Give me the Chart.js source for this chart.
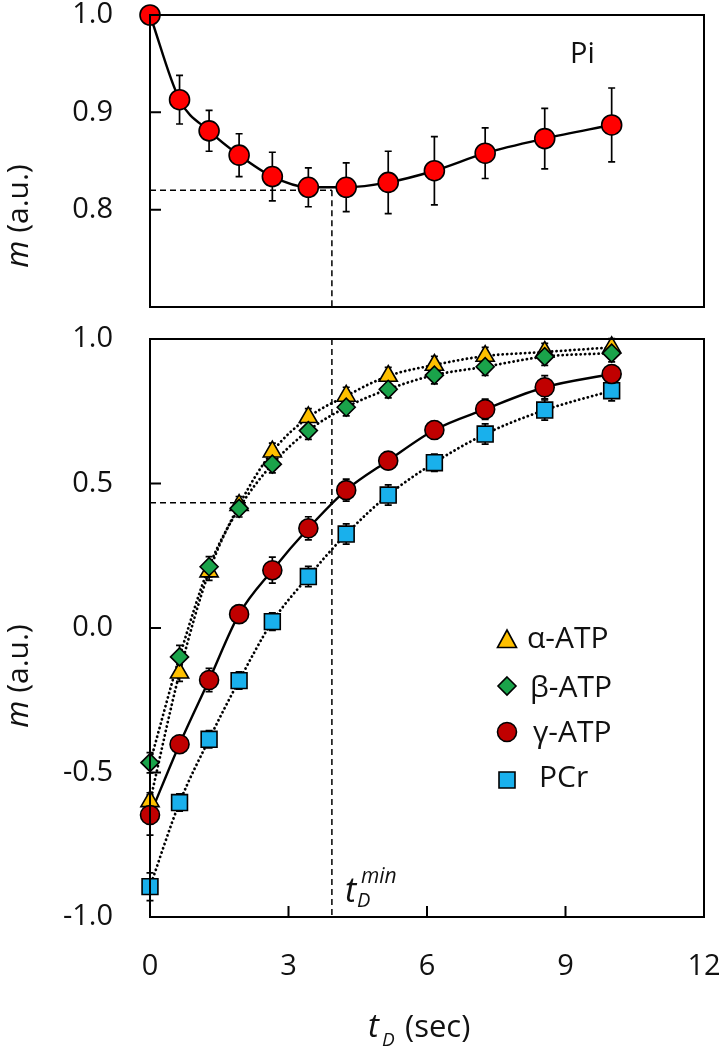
<!DOCTYPE html>
<html lang="en">
<head>
<meta charset="UTF-8">
<title>Pi and ATP magnetization vs tD</title>
<script src="https://cdn.jsdelivr.net/npm/chart.js"></script>
<style>
  body { margin: 0; background: #fff; }
  canvas { position: absolute; left: 0; }
  #piChart { top: 0; }
  #atpChart { top: 320px; }
</style>
</head>
<body>
<canvas id="piChart" width="722" height="330"></canvas>
<canvas id="atpChart" width="722" height="730"></canvas>
<script>
// delay times (sec)
const tD = [0, 0.64, 1.28, 1.93, 2.65, 3.43, 4.25, 5.16, 6.16, 7.26, 8.55, 10.0];

// top panel: Pi
const piM   = [1.0, 0.913, 0.881, 0.856, 0.834, 0.823, 0.823, 0.828, 0.840, 0.858, 0.873, 0.887];
const piErr = [0, 0.025, 0.021, 0.022, 0.025, 0.020, 0.025, 0.032, 0.035, 0.026, 0.031, 0.038];

// bottom panel
const alphaM   = [-0.60, -0.155, 0.195, 0.425, 0.61, 0.729, 0.803, 0.872, 0.91, 0.941, 0.955, 0.971];
const alphaErr = [0.03, 0.03, 0.03, 0.03, 0.03, 0.03, 0.03, 0.03, 0.03, 0.03, 0.03, 0.03];
const betaM    = [-0.466, -0.10, 0.212, 0.414, 0.567, 0.683, 0.764, 0.826, 0.875, 0.904, 0.939, 0.951];
const betaErr  = [0.035, 0.04, 0.035, 0.03, 0.03, 0.03, 0.03, 0.03, 0.03, 0.03, 0.03, 0.03];
const gammaM   = [-0.647, -0.402, -0.18, 0.048, 0.20, 0.345, 0.477, 0.579, 0.685, 0.757, 0.833, 0.879];
const gammaErr = [0.07, 0.03, 0.04, 0.03, 0.045, 0.04, 0.038, 0.03, 0.03, 0.035, 0.04, 0.03];
const pcrM     = [-0.895, -0.604, -0.385, -0.182, 0.022, 0.178, 0.325, 0.46, 0.572, 0.671, 0.754, 0.821];
const pcrErr   = [0.048, 0.03, 0.03, 0.03, 0.03, 0.035, 0.035, 0.035, 0.03, 0.035, 0.035, 0.035];

const tMin = 3.94;       // t_D^min
const piGuide = 0.82;    // Pi minimum
const gammaGuide = 0.433;

const yTicksTop = [0.8, 0.9, 1.0];
const yTicksBottom = [-1.0, -0.5, 0.0, 0.5, 1.0];
const xTicks = [0, 3, 6, 9, 12];

const FONT = "'Open Sans', 'Noto Sans', sans-serif";

const pts = (vals) => tD.map((t, i) => ({ x: t, y: vals[i] }));

function lineSet(vals, dotted) {
  return {
    data: pts(vals), showLine: true, pointRadius: 0, order: 10, clip: false,
    borderColor: '#000', borderWidth: dotted ? 2.8 : 2.4,
    borderDash: dotted ? [0.1, 4.4] : [], borderCapStyle: dotted ? 'round' : 'butt',
    cubicInterpolationMode: 'monotone', fill: false
  };
}
function pointSet(vals, errs, style, r, color, order) {
  return {
    data: pts(vals), errors: errs, showLine: false, order: order, clip: false,
    pointStyle: style, pointRadius: r, pointBackgroundColor: color,
    pointBorderColor: '#000', pointBorderWidth: 1.6
  };
}

function runs(ctx, x, y, parts) {
  parts.forEach(([txt, font, dy]) => {
    ctx.font = font;
    ctx.fillText(txt, x, y + (dy || 0));
    x += ctx.measureText(txt).width;
  });
}
function runsWidth(ctx, parts) {
  let w = 0;
  parts.forEach(([txt, font]) => { ctx.font = font; w += ctx.measureText(txt).width; });
  return w;
}

const deco = {
  id: 'deco',
  beforeDatasetsDraw(chart, args, o) {
    const { ctx, chartArea: a, scales: { x, y } } = chart;
    ctx.save();
    // dashed guides
    ctx.strokeStyle = '#000';
    ctx.lineWidth = 1.5;
    ctx.setLineDash([6, 4]);
    const px = x.getPixelForValue(tMin);
    const py = y.getPixelForValue(o.guide);
    ctx.beginPath();
    ctx.moveTo(a.left, py); ctx.lineTo(px, py);
    ctx.moveTo(px, o.fullVertical ? a.top : py); ctx.lineTo(px, a.bottom);
    ctx.stroke();
    ctx.setLineDash([]);
    // error bars
    ctx.lineWidth = 1.7;
    chart.data.datasets.forEach(ds => {
      if (!ds.errors) return;
      ds.data.forEach((p, i) => {
        const e = ds.errors[i];
        if (!e) return;
        const cx = x.getPixelForValue(p.x);
        const y1 = y.getPixelForValue(p.y - e), y2 = y.getPixelForValue(p.y + e);
        ctx.beginPath();
        ctx.moveTo(cx, y1); ctx.lineTo(cx, y2);
        ctx.moveTo(cx - 3.5, y1); ctx.lineTo(cx + 3.5, y1);
        ctx.moveTo(cx - 3.5, y2); ctx.lineTo(cx + 3.5, y2);
        ctx.stroke();
      });
    });
    ctx.restore();
  },
  afterDraw(chart, args, o) {
    const { ctx, chartArea: a, scales: { x, y } } = chart;
    ctx.save();
    ctx.strokeStyle = '#000';
    ctx.lineWidth = 2;
    ctx.strokeRect(a.left, a.top, a.right - a.left, a.bottom - a.top);
    // inward tick marks
    ctx.beginPath();
    y.ticks.forEach(t => {
      if (t.value > y.min + 1e-6 && t.value < y.max - 1e-6) {
        const p = y.getPixelForValue(t.value);
        ctx.moveTo(a.left, p); ctx.lineTo(a.left + 11, p);
      }
    });
    if (o.xTickMarks) {
      x.ticks.forEach(t => {
        if (t.value > x.min && t.value < x.max) {
          const p = x.getPixelForValue(t.value);
          ctx.moveTo(p, a.bottom); ctx.lineTo(p, a.bottom - 11);
        }
      });
    }
    ctx.stroke();
    // y axis title
    ctx.fillStyle = '#111';
    ctx.textBaseline = 'middle';
    const yt = [['m', 'italic 31px ' + FONT], [' (a.u.)', '30px ' + FONT]];
    ctx.save();
    ctx.translate(19, o.yTitleY);
    ctx.rotate(-Math.PI / 2);
    runs(ctx, -runsWidth(ctx, yt) / 2, 0, yt);
    ctx.restore();
    ctx.textBaseline = 'alphabetic';
    if (o.draw) o.draw(ctx, a, x, y);
    ctx.restore();
  }
};

function yScale(min, max, labels) {
  return {
    type: 'linear', min: min, max: max,
    afterBuildTicks: s => { s.ticks = labels.map(v => ({ value: v })); },
    afterFit: s => { s.width = 150; s.paddingTop = 0; s.paddingBottom = 0; },
    grid: { display: false, drawTicks: false }, border: { display: false },
    ticks: {
      padding: 37, color: '#111', font: { family: FONT, size: 29, lineHeight: 1 },
      callback: v => v.toFixed(1)
    }
  };
}

new Chart(document.getElementById('piChart'), {
  type: 'line',
  data: {
    datasets: [
      lineSet(piM, false),
      pointSet(piM, piErr, 'circle', 10, '#FF0000', 1)
    ]
  },
  plugins: [deco],
  options: {
    responsive: false, animation: false, devicePixelRatio: 1,
    layout: { autoPadding: false, padding: { top: 15, right: 18, bottom: 23, left: 0 } },
    scales: {
      x: { type: 'linear', min: 0, max: 12, display: false },
      y: yScale(0.7, 1.0, yTicksTop)
    },
    plugins: {
      legend: { display: false }, tooltip: { enabled: false },
      deco: {
        guide: piGuide, fullVertical: false, xTickMarks: false, yTitleY: 216,
        draw: (ctx, a) => {
          ctx.fillStyle = '#111';
          ctx.font = '29px ' + FONT;
          ctx.fillText('Pi', a.right - 134, a.top + 48);
        }
      }
    }
  }
});

const legendItems = [
  { style: 'triangle', color: '#FFC000', label: 'α-ATP', tx: 20 },
  { style: 'diamond', color: '#1AA34A', label: 'β-ATP', tx: 23 },
  { style: 'circle', color: '#C00000', label: 'γ-ATP', tx: 26 },
  { style: 'square', color: '#19B0EC', label: 'PCr', tx: 32 }
];

function drawMarker(ctx, style, cx, cy, color) {
  ctx.beginPath();
  if (style === 'triangle') {
    ctx.moveTo(cx, cy - 10); ctx.lineTo(cx + 9.5, cy + 7.5); ctx.lineTo(cx - 9.5, cy + 7.5); ctx.closePath();
  } else if (style === 'diamond') {
    ctx.moveTo(cx, cy - 9); ctx.lineTo(cx + 9, cy); ctx.lineTo(cx, cy + 9); ctx.lineTo(cx - 9, cy); ctx.closePath();
  } else if (style === 'circle') {
    ctx.arc(cx, cy, 9.5, 0, Math.PI * 2);
  } else {
    ctx.rect(cx - 8, cy - 8, 16, 16);
  }
  ctx.fillStyle = color;
  ctx.fill();
  ctx.lineWidth = 1.6;
  ctx.strokeStyle = '#000';
  ctx.stroke();
}

new Chart(document.getElementById('atpChart'), {
  type: 'line',
  data: {
    datasets: [
      lineSet(alphaM, true),
      lineSet(betaM, true),
      lineSet(gammaM, false),
      lineSet(pcrM, true),
      pointSet(pcrM, pcrErr, 'rect', 11.2, '#19B0EC', 4),
      pointSet(alphaM, alphaErr, 'triangle', 10.5, '#FFC000', 3),
      pointSet(betaM, betaErr, 'rectRot', 9, '#1AA34A', 2),
      pointSet(gammaM, gammaErr, 'circle', 9.5, '#C00000', 1)
    ]
  },
  plugins: [deco],
  options: {
    responsive: false, animation: false, devicePixelRatio: 1,
    layout: { autoPadding: false, padding: { top: 19, right: 18, bottom: 0, left: 0 } },
    scales: {
      x: {
        type: 'linear', min: 0, max: 12,
        afterBuildTicks: s => { s.ticks = xTicks.map(v => ({ value: v })); },
        afterFit: s => { s.height = 133; s.paddingLeft = 0; s.paddingRight = 0; },
        grid: { display: false, drawTicks: false }, border: { display: false },
        ticks: { padding: 35, color: '#111', font: { family: FONT, size: 29, lineHeight: 1 } }
      },
      y: yScale(-1.0, 1.0, yTicksBottom)
    },
    plugins: {
      legend: { display: false }, tooltip: { enabled: false },
      deco: {
        guide: gammaGuide, fullVertical: true, xTickMarks: true, yTitleY: 356,
        draw: (ctx, a, x) => {
          ctx.fillStyle = '#111';
          // t_D^min label
          const lx = x.getPixelForValue(tMin) + 13;
          const lb = a.bottom - 15;
          ctx.font = 'italic 34px ' + FONT;
          ctx.fillText('t', lx, lb);
          ctx.font = 'italic 20px ' + FONT;
          ctx.fillText('D', lx + 12, lb + 5);
          ctx.font = 'italic 21px ' + FONT;
          ctx.fillText('min', lx + 16, lb - 19);
          // x axis title
          const xb = 717;
          ctx.font = 'italic 33px ' + FONT;
          ctx.fillText('t', 368, xb);
          ctx.font = 'italic 19px ' + FONT;
          ctx.fillText('D', 382, xb + 9);
          ctx.font = '31px ' + FONT;
          ctx.fillText('(sec)', 405, xb);
          // legend
          legendItems.forEach((it, i) => {
            const cy = a.top + [301, 347, 393, 441][i];
            drawMarker(ctx, it.style, a.left + 357, cy, it.color);
            ctx.fillStyle = '#111';
            ctx.font = '30px ' + FONT;
            ctx.fillText(it.label, a.left + 357 + it.tx, cy + [8, 11, 10, 7][i]);
          });
        }
      }
    }
  }
});
</script>
</body>
</html>
